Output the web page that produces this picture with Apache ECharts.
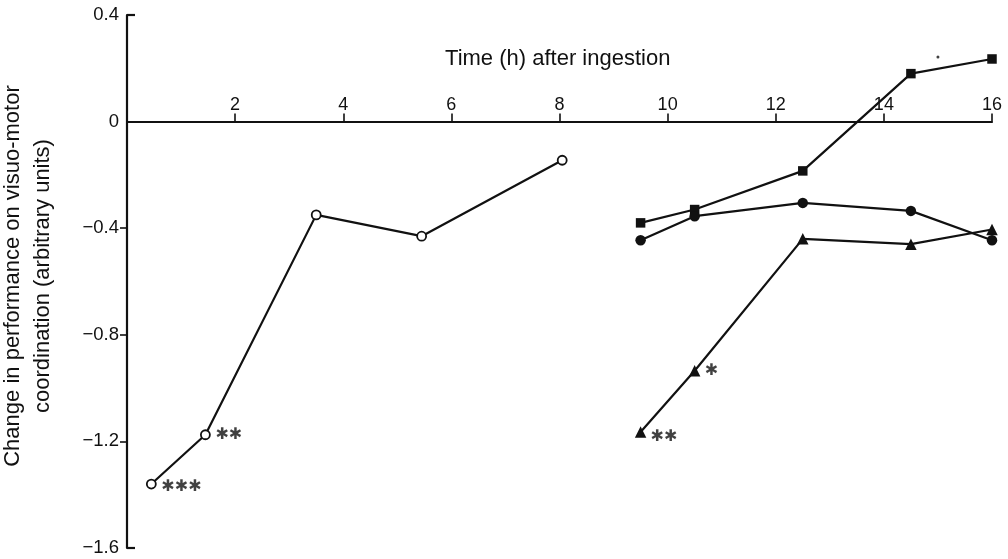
<!DOCTYPE html>
<html>
<head>
<meta charset="utf-8">
<script src="https://cdn.jsdelivr.net/npm/echarts@6/dist/echarts.min.js"></script>
<style>
  html, body { margin: 0; padding: 0; background: #fff; }
  #chart { width: 1008px; height: 559px; }
</style>
</head>
<body>
<div id="chart"></div>
<script>
// ---- data ----
const titleText = 'Time (h) after ingestion';
const yNameLines = ['Change in performance on visuo-motor', 'coordination (arbitrary units)'];

const openHours = [0.45, 1.45, 3.5, 5.45, 8.05];
const openValues = [-1.36, -1.175, -0.35, -0.43, -0.145];

const laterHours = [9.5, 10.5, 12.5, 14.5, 16];
const squareValues = [-0.38, -0.33, -0.185, 0.18, 0.235];
const filledCircleValues = [-0.445, -0.355, -0.305, -0.335, -0.445];
const triangleValues = [-1.165, -0.935, -0.44, -0.46, -0.405];

// significance marks
const starHours = [0.45, 1.45, 10.5, 9.5];
const starValues = [-1.36, -1.175, -0.935, -1.165];
const starTexts = ['✱✱✱', '✱✱', '✱', '✱✱'];
const starDy = [3, 0, 0, 5];

const dotHours = [15.0];
const dotValues = [0.242];

const xMin = 0, xMax = 16, xStep = 2;
const yMin = -1.6, yMax = 0.4, yStep = 0.4;
const yOutTicks = [-0.4, -0.8, -1.2];
const yInTicks = [0.4, -1.6];

// ---- chart ----
const W = 1008, H = 559;
const gridLeft = 127, gridRight = 16, gridTop = 15, gridBottom = 11;
const plotH = H - gridTop - gridBottom;
const zeroY = gridTop + plotH * (yMax - 0) / (yMax - yMin);   // pixel row of value 0

const ink = '#111';
const font = 'Liberation Sans, Arial, Helvetica, sans-serif';
const zip = (a, b) => a.map((v, i) => [v, b[i]]);
const minus = v => (v < 0 ? '\u2212' + Math.abs(v) : String(v));

const chart = echarts.init(document.getElementById('chart'), null, { renderer: 'canvas' });

const lineBase = {
  type: 'line',
  lineStyle: { color: ink, width: 2.2 },
  itemStyle: { color: ink },
  emphasis: { disabled: true },
  z: 3
};

chart.setOption({
  animation: false,
  backgroundColor: '#fff',
  textStyle: { fontFamily: font, color: ink },
  grid: [
    { left: gridLeft, right: gridRight, top: gridTop, bottom: gridBottom, outerBoundsMode: 'none', containLabel: false },
    // a strip whose bottom edge sits on the zero line: carries the time axis
    { left: gridLeft, right: gridRight, top: gridTop, bottom: H - zeroY, outerBoundsMode: 'none', containLabel: false }
  ],
  xAxis: [
    {
      gridIndex: 0, type: 'value', min: xMin, max: xMax, interval: xStep,
      axisLine: { show: false }, axisTick: { show: false }, axisLabel: { show: false }, splitLine: { show: false }
    },
    {
      gridIndex: 1, type: 'value', position: 'bottom', min: xMin, max: xMax, interval: xStep,
      axisLine: { show: true, onZero: false, lineStyle: { color: ink, width: 2.2 } },
      axisTick: { show: true, inside: true, length: 8, lineStyle: { color: ink, width: 1.6 } },
      axisLabel: { inside: true, margin: 8, fontSize: 18, color: ink, fontFamily: font, showMinLabel: false },
      splitLine: { show: false }
    }
  ],
  yAxis: [
    {
      gridIndex: 0, type: 'value',
      min: yMin, max: yMax, interval: yStep,
      axisLine: { show: true, onZero: false, lineStyle: { color: ink, width: 2.2 } },
      axisTick: { show: true, inside: false, length: 7, customValues: yOutTicks, lineStyle: { color: ink, width: 1.6 } },
      axisLabel: { margin: 8, fontSize: 18.5, color: ink, fontFamily: font, formatter: minus },
      splitLine: { show: false }
    },
    {
      gridIndex: 0, type: 'value',
      min: yMin, max: yMax, interval: yStep,
      position: 'left',
      axisLine: { show: false },
      axisTick: { show: true, inside: true, length: 8, customValues: yInTicks, lineStyle: { color: ink, width: 2.2 } },
      axisLabel: { show: false },
      splitLine: { show: false }
    },
    {
      gridIndex: 1, type: 'value', min: 0, max: yMax,
      axisLine: { show: false }, axisTick: { show: false }, axisLabel: { show: false }, splitLine: { show: false }
    }
  ],
  graphic: [
    {
      type: 'text', x: 557.7, y: 59,
      style: { text: titleText, fontSize: 22, fontFamily: font, fill: ink,
               align: 'center', verticalAlign: 'middle', textAlign: 'center', textVerticalAlign: 'middle' }
    },
    {
      type: 'text', x: 28, y: 276, rotation: Math.PI / 2,
      style: { text: yNameLines.join('\n'), fontSize: 22, lineHeight: 30, fontFamily: font, fill: ink,
               align: 'center', verticalAlign: 'middle', textAlign: 'center', textVerticalAlign: 'middle' }
    }
  ],
  series: [
    Object.assign({}, lineBase, {
      name: 'open', data: zip(openHours, openValues),
      symbol: 'circle', symbolSize: 9,
      itemStyle: { color: '#fff', borderColor: ink, borderWidth: 1.8 }
    }),
    Object.assign({}, lineBase, {
      name: 'square', data: zip(laterHours, squareValues),
      symbol: 'rect', symbolSize: 9.5
    }),
    Object.assign({}, lineBase, {
      name: 'filled', data: zip(laterHours, filledCircleValues),
      symbol: 'circle', symbolSize: 10.5
    }),
    Object.assign({}, lineBase, {
      name: 'triangle', data: zip(laterHours, triangleValues),
      symbol: 'triangle', symbolSize: 11.5
    }),
    {
      type: 'scatter', name: 'stars', symbolSize: 0, z: 4,
      emphasis: { disabled: true },
      data: starHours.map((h, i) => ({
        value: [h, starValues[i]],
        label: {
          show: true, position: 'right', distance: 10, offset: [0, starDy[i]],
          formatter: starTexts[i], fontSize: 16, fontWeight: 'bold', color: ink,
          fontFamily: 'DejaVu Sans, sans-serif'
        }
      }))
    },
    {
      type: 'scatter', name: 'dot', symbol: 'circle', symbolSize: 3, z: 4,
      itemStyle: { color: ink },
      emphasis: { disabled: true },
      data: zip(dotHours, dotValues)
    }
  ]
});
</script>
</body>
</html>
